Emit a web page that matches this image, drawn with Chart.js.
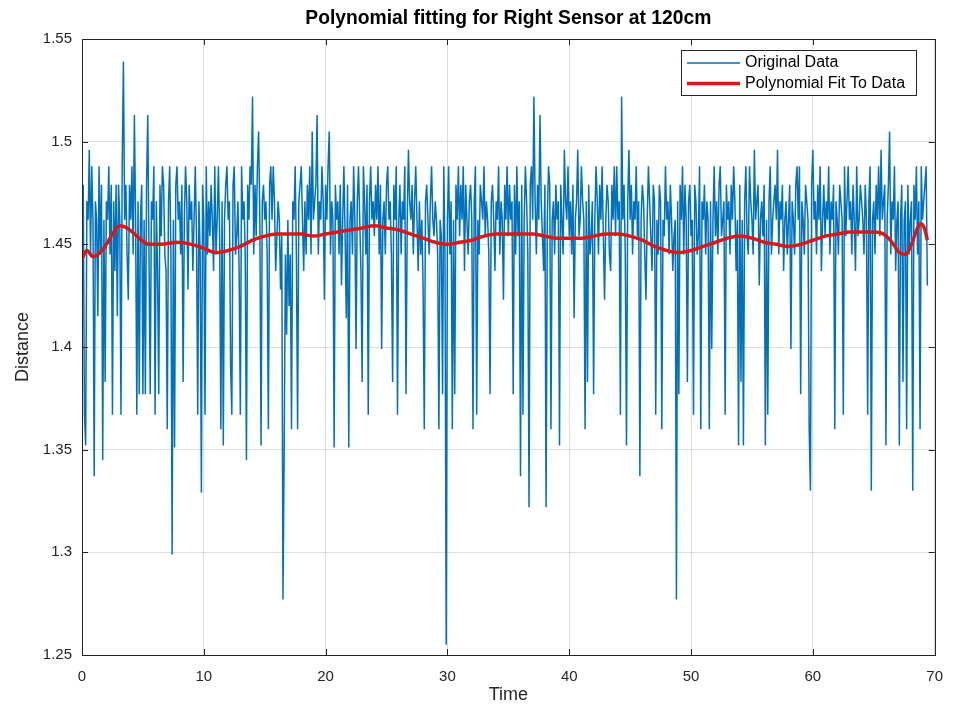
<!DOCTYPE html>
<html lang="en">
<head>
<meta charset="UTF-8">
<title>Polynomial fitting for Right Sensor at 120cm</title>
<script src="https://cdn.jsdelivr.net/npm/chart.js"></script>
<style>
  html, body { margin: 0; padding: 0; background: #fff; }
  #wrap { width: 956px; height: 707px; }
</style>
</head>
<body>
<div id="wrap"><canvas id="fitChart" width="956" height="707"></canvas></div>
<script>
// sensor samples, 10 per second (one row = one second)
const sampleStep = 0.1;
const distanceSamples = [
  1.462, 1.479, 1.367, 1.352, 1.471, 1.462, 1.496, 1.445, 1.488, 1.462,
  1.337, 1.471, 1.462, 1.415, 1.488, 1.445, 1.479, 1.345, 1.462, 1.383,
  1.471, 1.462, 1.488, 1.445, 1.479, 1.367, 1.471, 1.437, 1.479, 1.415,
  1.479, 1.462, 1.367, 1.488, 1.539, 1.462, 1.479, 1.445, 1.423, 1.479,
  1.462, 1.488, 1.445, 1.513, 1.462, 1.367, 1.471, 1.377, 1.462, 1.479,
  1.377, 1.462, 1.377, 1.479, 1.513, 1.445, 1.377, 1.471, 1.462, 1.488,
  1.367, 1.471, 1.437, 1.377, 1.479, 1.454, 1.488, 1.479, 1.445, 1.437,
  1.360, 1.471, 1.488, 1.445, 1.299, 1.462, 1.351, 1.479, 1.488, 1.462,
  1.471, 1.445, 1.479, 1.383, 1.462, 1.488, 1.471, 1.428, 1.479, 1.462,
  1.471, 1.437, 1.462, 1.488, 1.454, 1.367, 1.471, 1.445, 1.329, 1.479,
  1.462, 1.367, 1.488, 1.445, 1.471, 1.454, 1.479, 1.462, 1.437, 1.488,
  1.445, 1.462, 1.488, 1.454, 1.360, 1.471, 1.352, 1.462, 1.479, 1.488,
  1.462, 1.471, 1.391, 1.367, 1.479, 1.488, 1.445, 1.454, 1.471, 1.437,
  1.367, 1.488, 1.462, 1.471, 1.445, 1.345, 1.479, 1.462, 1.488, 1.479,
  1.522, 1.445, 1.479, 1.454, 1.488, 1.505, 1.462, 1.352, 1.471, 1.479,
  1.462, 1.471, 1.445, 1.360, 1.479, 1.488, 1.462, 1.488, 1.471, 1.437,
  1.454, 1.471, 1.462, 1.428, 1.454, 1.277, 1.352, 1.445, 1.406, 1.462,
  1.420, 1.445, 1.360, 1.471, 1.462, 1.488, 1.445, 1.360, 1.471, 1.479,
  1.488, 1.462, 1.437, 1.471, 1.445, 1.479, 1.462, 1.488, 1.445, 1.505,
  1.462, 1.471, 1.479, 1.513, 1.445, 1.471, 1.462, 1.488, 1.471, 1.423,
  1.479, 1.462, 1.488, 1.505, 1.445, 1.471, 1.462, 1.351, 1.479, 1.462,
  1.471, 1.445, 1.479, 1.430, 1.462, 1.488, 1.454, 1.414, 1.479, 1.351,
  1.462, 1.471, 1.445, 1.488, 1.462, 1.399, 1.471, 1.488, 1.462, 1.437,
  1.383, 1.488, 1.471, 1.445, 1.479, 1.367, 1.471, 1.488, 1.462, 1.471,
  1.454, 1.479, 1.462, 1.488, 1.445, 1.479, 1.399, 1.462, 1.471, 1.445,
  1.479, 1.488, 1.462, 1.471, 1.445, 1.383, 1.479, 1.462, 1.488, 1.367,
  1.462, 1.479, 1.445, 1.471, 1.462, 1.488, 1.377, 1.462, 1.496, 1.471,
  1.462, 1.479, 1.445, 1.471, 1.488, 1.462, 1.437, 1.471, 1.445, 1.462,
  1.430, 1.360, 1.471, 1.479, 1.462, 1.445, 1.471, 1.488, 1.462, 1.454,
  1.471, 1.462, 1.445, 1.360, 1.462, 1.454, 1.377, 1.488, 1.445, 1.255,
  1.462, 1.488, 1.445, 1.471, 1.360, 1.462, 1.377, 1.479, 1.462, 1.488,
  1.454, 1.479, 1.462, 1.488, 1.437, 1.479, 1.462, 1.445, 1.471, 1.479,
  1.462, 1.360, 1.471, 1.488, 1.367, 1.462, 1.445, 1.479, 1.471, 1.462,
  1.488, 1.454, 1.471, 1.462, 1.445, 1.377, 1.471, 1.479, 1.462, 1.437,
  1.471, 1.462, 1.488, 1.445, 1.471, 1.462, 1.423, 1.479, 1.462, 1.488,
  1.454, 1.479, 1.462, 1.471, 1.377, 1.479, 1.445, 1.488, 1.454, 1.471,
  1.337, 1.479, 1.367, 1.462, 1.488, 1.471, 1.445, 1.322, 1.479, 1.488,
  1.462, 1.522, 1.471, 1.445, 1.479, 1.462, 1.513, 1.471, 1.454, 1.437,
  1.479, 1.322, 1.462, 1.488, 1.479, 1.360, 1.462, 1.471, 1.445, 1.479,
  1.462, 1.471, 1.352, 1.479, 1.462, 1.445, 1.496, 1.471, 1.462, 1.488,
  1.454, 1.471, 1.445, 1.479, 1.414, 1.462, 1.471, 1.496, 1.454, 1.462,
  1.488, 1.471, 1.462, 1.360, 1.471, 1.383, 1.479, 1.445, 1.454, 1.471,
  1.377, 1.462, 1.488, 1.471, 1.445, 1.479, 1.462, 1.488, 1.454, 1.423,
  1.462, 1.479, 1.471, 1.445, 1.437, 1.479, 1.462, 1.488, 1.454, 1.488,
  1.462, 1.471, 1.367, 1.522, 1.462, 1.479, 1.445, 1.352, 1.471, 1.496,
  1.462, 1.479, 1.445, 1.471, 1.462, 1.488, 1.454, 1.471, 1.337, 1.462,
  1.479, 1.471, 1.445, 1.423, 1.462, 1.488, 1.471, 1.454, 1.437, 1.479,
  1.471, 1.367, 1.462, 1.445, 1.479, 1.471, 1.360, 1.462, 1.454, 1.488,
  1.462, 1.471, 1.445, 1.479, 1.462, 1.437, 1.454, 1.462, 1.277, 1.471,
  1.377, 1.479, 1.462, 1.488, 1.445, 1.479, 1.462, 1.383, 1.471, 1.479,
  1.454, 1.462, 1.367, 1.479, 1.471, 1.445, 1.454, 1.488, 1.360, 1.471,
  1.462, 1.479, 1.445, 1.471, 1.462, 1.360, 1.471, 1.399, 1.462, 1.488,
  1.454, 1.471, 1.445, 1.479, 1.488, 1.454, 1.462, 1.471, 1.367, 1.479,
  1.462, 1.471, 1.445, 1.479, 1.462, 1.488, 1.471, 1.437, 1.462, 1.352,
  1.479, 1.383, 1.462, 1.352, 1.471, 1.488, 1.454, 1.445, 1.488, 1.471,
  1.462, 1.445, 1.496, 1.462, 1.471, 1.479, 1.430, 1.462, 1.471, 1.454,
  1.479, 1.352, 1.462, 1.367, 1.471, 1.488, 1.445, 1.462, 1.471, 1.479,
  1.462, 1.496, 1.445, 1.471, 1.462, 1.479, 1.437, 1.462, 1.471, 1.445,
  1.462, 1.479, 1.399, 1.471, 1.462, 1.445, 1.479, 1.488, 1.462, 1.488,
  1.377, 1.471, 1.462, 1.445, 1.479, 1.471, 1.462, 1.360, 1.330, 1.479,
  1.496, 1.462, 1.471, 1.445, 1.479, 1.462, 1.488, 1.437, 1.462, 1.479,
  1.454, 1.471, 1.462, 1.488, 1.445, 1.471, 1.462, 1.479, 1.360, 1.471,
  1.462, 1.445, 1.479, 1.471, 1.462, 1.367, 1.488, 1.454, 1.471, 1.488,
  1.462, 1.471, 1.445, 1.479, 1.462, 1.437, 1.488, 1.454, 1.462, 1.479,
  1.471, 1.462, 1.445, 1.479, 1.462, 1.367, 1.471, 1.488, 1.330, 1.462,
  1.471, 1.445, 1.479, 1.462, 1.488, 1.454, 1.496, 1.462, 1.471, 1.479,
  1.352, 1.462, 1.479, 1.505, 1.445, 1.471, 1.462, 1.488, 1.437, 1.462,
  1.471, 1.352, 1.462, 1.479, 1.383, 1.462, 1.471, 1.360, 1.479, 1.445,
  1.462, 1.471, 1.330, 1.479, 1.462, 1.488, 1.445, 1.471, 1.360, 1.488,
  1.462, 1.471, 1.479, 1.488, 1.430
];

// polynomial fit evaluated along the time axis
const fitTime = [0, 0.4, 0.9, 1.5, 2, 2.5, 3.1, 3.7, 4.5, 5.5, 6.5, 7.8, 9, 10, 11, 12, 13, 14, 15,
  16, 17, 18, 19, 20, 21, 22, 23, 24, 25, 26, 27, 28, 29, 30, 31, 32, 33, 34, 35, 36, 37, 38,
  39, 40, 41, 42, 43, 44, 45, 46, 47, 48, 49, 50, 51, 52, 53, 54, 55, 56, 57, 58, 59, 60, 61,
  62, 63, 64, 65, 65.8, 66.5, 67.1, 67.6, 68.1, 68.6, 68.9, 69.2, 69.4];
const fitValue = [1.443, 1.447, 1.444, 1.446, 1.450, 1.455, 1.459, 1.458, 1.454, 1.450, 1.450,
  1.451, 1.450, 1.448, 1.446, 1.447, 1.449, 1.452, 1.454, 1.455, 1.455, 1.455, 1.454, 1.455,
  1.456, 1.457, 1.458, 1.459, 1.458, 1.457, 1.455, 1.453, 1.451, 1.450, 1.451, 1.452, 1.454,
  1.455, 1.455, 1.455, 1.455, 1.454, 1.453, 1.453, 1.453, 1.454, 1.455, 1.455, 1.454, 1.452,
  1.449, 1.447, 1.446, 1.447, 1.449, 1.451, 1.453, 1.454, 1.453, 1.451, 1.450, 1.449, 1.450,
  1.452, 1.454, 1.455, 1.456, 1.456, 1.456, 1.455, 1.451, 1.446, 1.445, 1.450, 1.458, 1.460,
  1.457, 1.452];

const seriesNames = ['Original Data', 'Polynomial Fit To Data'];
const xTicks = [0, 10, 20, 30, 40, 50, 60, 70];
const yTickLabels = ['1.25', '1.3', '1.35', '1.4', '1.45', '1.5', '1.55'];
const chartTitle = 'Polynomial fitting for Right Sensor at 120cm';

const rawPoints = distanceSamples.map((v, i) => ({ x: +(i * sampleStep).toFixed(1), y: v }));
const fitPoints = fitTime.map((t, i) => ({ x: t, y: fitValue[i] }));

const FONT = '"Liberation Sans", Arial, Helvetica, sans-serif';
const INK = '#262626';

// box, inward ticks, title and legend drawn like a MATLAB axes
const axesFrame = {
  id: 'axesFrame',
  afterDraw(chart) {
    const { ctx, chartArea: a, scales } = chart;
    ctx.save();
    ctx.strokeStyle = INK;
    ctx.lineWidth = 1;
    ctx.strokeRect(Math.round(a.left) + 0.5, Math.round(a.top) + 0.5,
      Math.round(a.right - a.left), Math.round(a.bottom - a.top));
    const tl = 6;
    ctx.beginPath();
    scales.x.ticks.forEach(t => {
      const px = Math.round(scales.x.getPixelForValue(t.value)) + 0.5;
      ctx.moveTo(px, a.bottom); ctx.lineTo(px, a.bottom - tl);
      ctx.moveTo(px, a.top); ctx.lineTo(px, a.top + tl);
    });
    scales.y.ticks.forEach(t => {
      const py = Math.round(scales.y.getPixelForValue(t.value)) + 0.5;
      ctx.moveTo(a.left, py); ctx.lineTo(a.left + tl, py);
      ctx.moveTo(a.right, py); ctx.lineTo(a.right - tl, py);
    });
    ctx.stroke();

    // title
    ctx.fillStyle = '#000';
    ctx.font = 'bold 19.3px ' + FONT;
    ctx.textAlign = 'center';
    ctx.textBaseline = 'middle';
    ctx.fillText(chartTitle, (a.left + a.right) / 2, 19);

    // legend
    const lx = 681, ly = 50, lw = 235, lh = 45;
    ctx.fillStyle = '#fff';
    ctx.fillRect(lx, ly, lw, lh);
    ctx.strokeStyle = INK;
    ctx.lineWidth = 1;
    ctx.strokeRect(lx + 0.5, ly + 0.5, lw, lh);
    ctx.font = '16px ' + FONT;
    ctx.textAlign = 'left';
    chart.data.datasets.forEach((ds, i) => {
      const rowY = ly + 13 + i * 20.5;
      ctx.strokeStyle = ds.borderColor;
      ctx.lineWidth = ds.borderWidth;
      ctx.beginPath();
      ctx.moveTo(lx + 6, rowY); ctx.lineTo(lx + 59, rowY);
      ctx.stroke();
      ctx.fillStyle = '#000';
      ctx.fillText(ds.label, lx + 64, rowY);
    });
    ctx.restore();
  }
};

new Chart(document.getElementById('fitChart'), {
  type: 'line',
  data: {
    datasets: [
      {
        label: seriesNames[0],
        data: rawPoints,
        borderColor: '#0072BD',
        borderWidth: 1.5,
        pointRadius: 0,
        tension: 0,
        order: 2
      },
      {
        label: seriesNames[1],
        data: fitPoints,
        borderColor: '#D7191C',
        borderWidth: 3.5,
        pointRadius: 0,
        cubicInterpolationMode: 'monotone',
        order: 1
      }
    ]
  },
  options: {
    responsive: false,
    animation: false,
    devicePixelRatio: 1,
    layout: { padding: { top: 39, right: 21, left: 0, bottom: 0 } },
    plugins: {
      legend: { display: false },
      title: { display: false },
      tooltip: { enabled: false }
    },
    scales: {
      x: {
        type: 'linear',
        min: 0,
        max: 70,
        afterBuildTicks: s => { s.ticks = xTicks.map(v => ({ value: v })); },
        afterFit: s => { s.height = 52; },
        ticks: { font: { family: FONT, size: 15 }, color: INK, padding: 13, maxRotation: 0 },
        grid: { color: 'rgba(0,0,0,0.13)', drawTicks: false },
        border: { display: false },
        title: { display: true, text: 'Time', font: { family: FONT, size: 18 }, color: INK, padding: { top: 0, bottom: 1 } }
      },
      y: {
        min: 1.25,
        max: 1.55,
        afterBuildTicks: s => { s.ticks = yTickLabels.map(l => ({ value: parseFloat(l) })); },
        afterFit: s => { s.width = 82; },
        ticks: {
          font: { family: FONT, size: 15 },
          color: INK,
          padding: 10,
          callback: (v, i) => yTickLabels[i]
        },
        grid: { color: 'rgba(0,0,0,0.13)', drawTicks: false },
        border: { display: false },
        title: { display: true, text: 'Distance', font: { family: FONT, size: 18 }, color: INK, padding: { top: 12, bottom: 0 } }
      }
    }
  },
  plugins: [axesFrame]
});
</script>
</body>
</html>
